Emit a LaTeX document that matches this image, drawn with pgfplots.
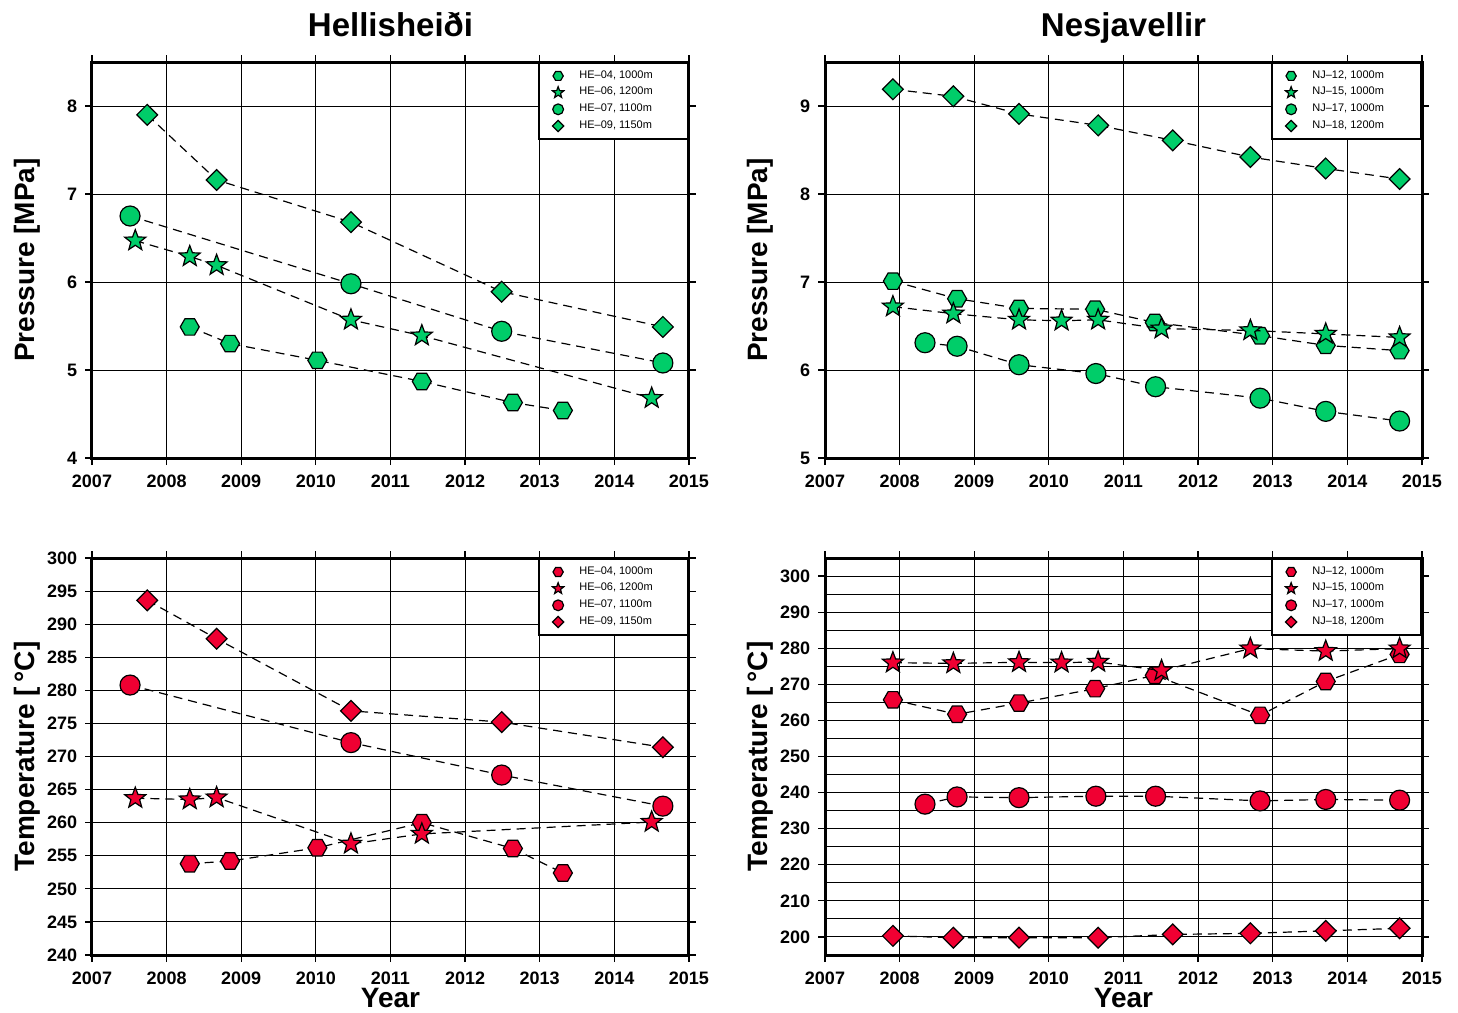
\documentclass[border=0pt]{standalone}
\usepackage{fontspec}
\setmainfont{Liberation Sans}
\usepackage{pgfplots}
\pgfplotsset{compat=1.18}
\usetikzlibrary{plotmarks}
\definecolor{mgreen}{RGB}{0,205,105}
\definecolor{mred}{RGB}{240,0,50}
\pgfdeclareplotmark{hexagon*}{%
  \pgfpathmoveto{\pgfqpoint{\pgfplotmarksize}{0pt}}%
  \pgfpathlineto{\pgfqpoint{0.5\pgfplotmarksize}{0.866\pgfplotmarksize}}%
  \pgfpathlineto{\pgfqpoint{-0.5\pgfplotmarksize}{0.866\pgfplotmarksize}}%
  \pgfpathlineto{\pgfqpoint{-\pgfplotmarksize}{0pt}}%
  \pgfpathlineto{\pgfqpoint{-0.5\pgfplotmarksize}{-0.866\pgfplotmarksize}}%
  \pgfpathlineto{\pgfqpoint{0.5\pgfplotmarksize}{-0.866\pgfplotmarksize}}%
  \pgfpathclose\pgfusepathqfillstroke}
\pgfdeclareplotmark{gdiamond*}{%
  \pgfpathmoveto{\pgfqpoint{\pgfplotmarksize}{0pt}}%
  \pgfpathlineto{\pgfqpoint{0pt}{\pgfplotmarksize}}%
  \pgfpathlineto{\pgfqpoint{-\pgfplotmarksize}{0pt}}%
  \pgfpathlineto{\pgfqpoint{0pt}{-\pgfplotmarksize}}%
  \pgfpathclose\pgfusepathqfillstroke}
\pgfdeclareplotmark{gstar*}{%
  \pgfpathmoveto{\pgfqpointpolar{90}{\pgfplotmarksize}}%
  \pgfpathlineto{\pgfqpointpolar{126}{0.42\pgfplotmarksize}}%
  \pgfpathlineto{\pgfqpointpolar{162}{\pgfplotmarksize}}%
  \pgfpathlineto{\pgfqpointpolar{198}{0.42\pgfplotmarksize}}%
  \pgfpathlineto{\pgfqpointpolar{234}{\pgfplotmarksize}}%
  \pgfpathlineto{\pgfqpointpolar{270}{0.42\pgfplotmarksize}}%
  \pgfpathlineto{\pgfqpointpolar{306}{\pgfplotmarksize}}%
  \pgfpathlineto{\pgfqpointpolar{342}{0.42\pgfplotmarksize}}%
  \pgfpathlineto{\pgfqpointpolar{18}{\pgfplotmarksize}}%
  \pgfpathlineto{\pgfqpointpolar{54}{0.42\pgfplotmarksize}}%
  \pgfpathclose\pgfusepathqfillstroke}
\pgfplotsset{
  myaxis/.style={
    scale only axis, width=298.5pt,
    xmin=2007, xmax=2015, xtick={2007,...,2015},
    grid=major, major grid style={black, line width=0.5pt},
    axis line style={line width=1.5pt},
    tick align=outside, major tick length=3.5pt, tick style={black, line width=0.6pt},
    ticklabel style={font=\bfseries\fontsize{9}{10}\selectfont},
    /pgf/number format/assume math mode=true,
    /pgf/number format/1000 sep={},
    xticklabel style={anchor=base, inner sep=0pt, yshift=-11pt},
    yticklabel style={anchor=east, inner sep=0pt, xshift=-3.7pt},
    title style={font=\bfseries\fontsize{16.5}{18}\selectfont, at={(0.5,1)}, anchor=base, yshift=7pt},
    every axis y label/.style={at={(axis description cs:-0.0955,0.5)}, rotate=90, anchor=base, font=\bfseries\fontsize{14}{16}\selectfont},
    every axis x label/.style={at={(axis description cs:0.5,-0.133)}, anchor=base, font=\bfseries\fontsize{14}{16}\selectfont},
    clip mode=individual,
    legend cell align=left,
    legend style={at={(1,1)}, anchor=north east, draw=black, line width=1pt, fill=white,
      font=\fontsize{5.5}{6}\selectfont, inner xsep=6.8pt, inner ysep=2.6pt, row sep=0.6pt, column sep=7.8pt,
      nodes={inner xsep=0pt, inner ysep=1.2pt}},
    legend image code/.code={\draw[/tikz/every mark/.append style={scale=0.54}, ##1, draw=none] plot coordinates {(0pt,0pt)};},
  },
  ser/.style={black, dash pattern=on 4.5pt off 3pt, line width=0.6pt, mark options={solid, draw=black, line width=0.6pt, fill=#1}},
  hex/.style={ser=#1, mark=hexagon*, mark size=4.75pt},
  sta/.style={ser=#1, mark=gstar*, mark size=5.5pt},
  cir/.style={ser=#1, mark=*, mark size=5pt},
  dia/.style={ser=#1, mark=gdiamond*, mark size=5.2pt},
}
\newcommand{\lgent}[1]{\makebox[47.5pt][l]{#1}}
\begin{document}
\begin{tikzpicture}
\useasboundingbox (0,0) rectangle (729pt,-506.5pt);
% Top-left: Hellisheidi pressure
\begin{axis}[myaxis, height=198pt, at={(46pt,-229pt)}, anchor=south west,
  ymin=4, ymax=8.5, ytick={4,...,8}, title={Hellisheiði}, ylabel={Pressure [MPa]}]
\addplot[hex=mgreen] coordinates {(2008.31,5.49) (2008.85,5.30) (2010.02,5.11) (2011.42,4.87) (2012.64,4.63) (2013.31,4.54)};
\addlegendentry{\lgent{HE–04, 1000m}}
\addplot[sta=mgreen] coordinates {(2007.58,6.47) (2008.31,6.29) (2008.67,6.19) (2010.47,5.57) (2011.42,5.39) (2014.50,4.68)};
\addlegendentry{\lgent{HE–06, 1200m}}
\addplot[cir=mgreen] coordinates {(2007.51,6.75) (2010.47,5.98) (2012.49,5.44) (2014.65,5.08)};
\addlegendentry{\lgent{HE–07, 1100m}}
\addplot[dia=mgreen] coordinates {(2007.74,7.90) (2008.67,7.16) (2010.47,6.68) (2012.49,5.89) (2014.65,5.49)};
\addlegendentry{\lgent{HE–09, 1150m}}
\end{axis}
% Top-right: Nesjavellir pressure
\begin{axis}[myaxis, height=198pt, at={(412.5pt,-229pt)}, anchor=south west,
  ymin=5, ymax=9.5, ytick={5,...,9}, title={Nesjavellir}, ylabel={Pressure [MPa]}]
\addplot[hex=mgreen] coordinates {(2007.91,7.01) (2008.77,6.81) (2009.60,6.70) (2010.62,6.69) (2011.42,6.54) (2012.83,6.39) (2013.71,6.28) (2014.70,6.22)};
\addlegendentry{\lgent{NJ–12, 1000m}}
\addplot[sta=mgreen] coordinates {(2007.91,6.72) (2008.72,6.64) (2009.60,6.57) (2010.17,6.56) (2010.66,6.57) (2011.51,6.47) (2012.70,6.45) (2013.71,6.41) (2014.70,6.37)};
\addlegendentry{\lgent{NJ–15, 1000m}}
\addplot[cir=mgreen] coordinates {(2008.34,6.31) (2008.77,6.27) (2009.60,6.06) (2010.63,5.96) (2011.43,5.81) (2012.83,5.68) (2013.71,5.53) (2014.70,5.42)};
\addlegendentry{\lgent{NJ–17, 1000m}}
\addplot[dia=mgreen] coordinates {(2007.91,9.19) (2008.72,9.11) (2009.60,8.91) (2010.66,8.78) (2011.66,8.61) (2012.70,8.42) (2013.71,8.29) (2014.70,8.17)};
\addlegendentry{\lgent{NJ–18, 1200m}}
\end{axis}
% Bottom-left: Hellisheidi temperature
\begin{axis}[myaxis, height=198.5pt, at={(46pt,-477.5pt)}, anchor=south west,
  ymin=240, ymax=300, ytick={240,245,...,300}, ylabel={Temperature [\,°C]}, xlabel={Year}]
\addplot[hex=mred] coordinates {(2008.31,253.8) (2008.85,254.2) (2010.02,256.2) (2011.42,260.0) (2012.64,256.1) (2013.31,252.4)};
\addlegendentry{\lgent{HE–04, 1000m}}
\addplot[sta=mred] coordinates {(2007.58,263.7) (2008.31,263.5) (2008.67,263.8) (2010.47,256.8) (2011.42,258.3) (2014.50,260.1)};
\addlegendentry{\lgent{HE–06, 1200m}}
\addplot[cir=mred] coordinates {(2007.51,280.8) (2010.47,272.1) (2012.49,267.2) (2014.65,262.5)};
\addlegendentry{\lgent{HE–07, 1100m}}
\addplot[dia=mred] coordinates {(2007.74,293.6) (2008.67,287.8) (2010.47,276.9) (2012.49,275.2) (2014.65,271.4)};
\addlegendentry{\lgent{HE–09, 1150m}}
\end{axis}
% Bottom-right: Nesjavellir temperature
\begin{axis}[myaxis, height=198.5pt, at={(412.5pt,-477.5pt)}, anchor=south west,
  ymin=195, ymax=305, ytick={200,210,...,300}, minor ytick={195,205,...,305}, minor tick length=0pt,
  grid=both, minor grid style={black, line width=0.5pt},
  ylabel={Temperature [\,°C]}, xlabel={Year}]
\addplot[hex=mred] coordinates {(2007.91,265.7) (2008.77,261.7) (2009.60,264.8) (2010.62,268.8) (2011.42,272.5) (2012.83,261.4) (2013.71,270.8) (2014.70,278.3)};
\addlegendentry{\lgent{NJ–12, 1000m}}
\addplot[sta=mred] coordinates {(2007.91,276.0) (2008.72,275.8) (2009.60,276.1) (2010.17,276.0) (2010.66,276.2) (2011.51,273.8) (2012.70,279.9) (2013.71,279.2) (2014.70,279.9)};
\addlegendentry{\lgent{NJ–15, 1000m}}
\addplot[cir=mred] coordinates {(2008.34,236.8) (2008.77,238.8) (2009.60,238.6) (2010.63,239.0) (2011.43,239.0) (2012.83,237.7) (2013.71,238.1) (2014.70,237.9)};
\addlegendentry{\lgent{NJ–17, 1000m}}
\addplot[dia=mred] coordinates {(2007.91,200.3) (2008.72,199.8) (2009.60,199.8) (2010.66,199.8) (2011.66,200.7) (2012.70,201.0) (2013.71,201.7) (2014.70,202.4)};
\addlegendentry{\lgent{NJ–18, 1200m}}
\end{axis}
\end{tikzpicture}
\end{document}
